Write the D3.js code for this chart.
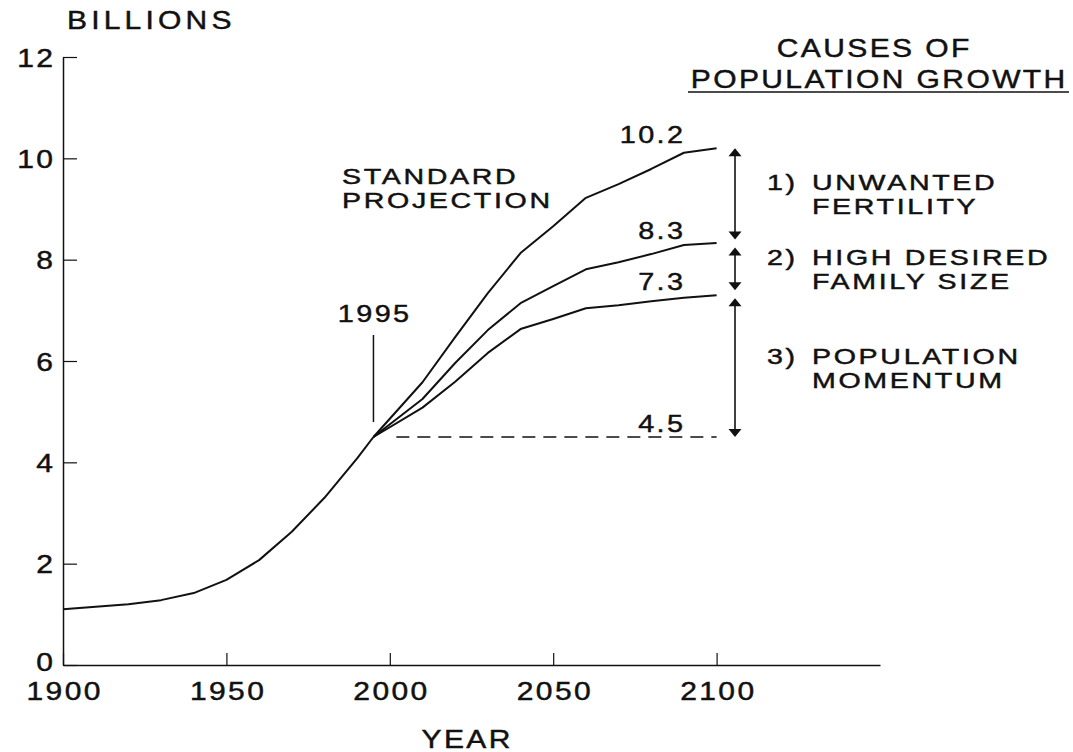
<!DOCTYPE html>
<html>
<head>
<meta charset="utf-8">
<script src="https://cdn.jsdelivr.net/npm/d3@7"></script>
<style>
  html, body { margin: 0; padding: 0; background: #fff; }
  svg { display: block; }
  text { font-family: "Liberation Sans", Arial, Helvetica, sans-serif; fill: #111; stroke: #111; stroke-width: 0.45px; }
</style>
</head>
<body>
<svg id="chart" width="1073" height="752"></svg>
<script>
// ---- data ----
const histYears = [1900, 1910, 1920, 1930, 1940, 1950, 1960, 1970, 1980, 1990, 1995];
const histPop   = [1.10, 1.15, 1.20, 1.28, 1.42, 1.68, 2.07, 2.63, 3.30, 4.08, 4.50];

const projYears   = [1995, 2010, 2020, 2030, 2040, 2050, 2060, 2070, 2080, 2090, 2100];
const standardPop = [4.50, 5.58, 6.47, 7.34, 8.13, 8.66, 9.22, 9.49, 9.79, 10.11, 10.20];
const wantedPop   = [4.50, 5.25, 5.96, 6.61, 7.14, 7.48, 7.81, 7.95, 8.11, 8.29, 8.33];
const replacePop  = [4.50, 5.08, 5.59, 6.16, 6.63, 6.83, 7.04, 7.10, 7.18, 7.25, 7.30];

const endLabels = ["10.2", "8.3", "7.3", "4.5"];
const endValues = [10.2, 8.3, 7.3, 4.5];
const momentumBase = 4.5;
const baseYear = 1995;
const endYear = 2100;

const xTicks = [1900, 1950, 2000, 2050, 2100];
const yTicks = [0, 2, 4, 6, 8, 10, 12];

const causeNums = ["1)", "2)", "3)"];
const causeLines = [["UNWANTED", "FERTILITY"], ["HIGH DESIRED", "FAMILY SIZE"], ["POPULATION", "MOMENTUM"]];

// ---- layout ----
const svg = d3.select("#chart");
const x = d3.scaleLinear().domain([1900, 2150]).range([63, 880]);
const y = d3.scaleLinear().domain([0, 12]).range([665, 57]);
const SX = 1.2, LS = 2;

function label(parent, tx, ty, str, anchor, size, ls, sx) {
  ls = ls === undefined ? LS : ls;
  sx = sx || SX;
  const shift = anchor === "end" ? ls * sx : (anchor === "middle" ? ls * sx / 2 : 0);
  return parent.append("text")
    .attr("transform", `translate(${tx + shift},${ty}) scale(${sx},1)`)
    .attr("text-anchor", anchor)
    .attr("font-size", size)
    .attr("letter-spacing", ls)
    .text(str);
}
// multi-line label: lines = [[dx, dy, str], ...] relative to first baseline
function block(parent, tx, ty, lines, anchor, size, sx) {
  sx = sx || SX;
  const shift = anchor === "middle" ? LS * sx / 2 : 0;
  const t = parent.append("text")
    .attr("transform", `translate(${tx + shift},${ty}) scale(${sx},1)`)
    .attr("text-anchor", anchor)
    .attr("font-size", size)
    .attr("letter-spacing", LS);
  lines.forEach(l => {
    t.append("tspan").attr("x", l[0] / sx).attr("y", l[1]).text(l[2]);
  });
  return t;
}

// axes
const yAxis = svg.append("g").attr("transform", `translate(${x(1900)},0)`)
  .call(d3.axisLeft(y).tickValues(yTicks).tickSize(-14).tickSizeOuter(0).tickPadding(10).tickFormat(d3.format("d")));
const xAxis = svg.append("g").attr("transform", `translate(0,${y(0)})`)
  .call(d3.axisBottom(x).tickValues(xTicks).tickSize(-12).tickSizeOuter(0).tickPadding(16).tickFormat(d3.format("d")));

[yAxis, xAxis].forEach(g => {
  g.select(".domain").attr("stroke", "#111").attr("stroke-width", 1.5);
  g.selectAll(".tick line").attr("stroke", "#111").attr("stroke-width", 1.2);
  g.attr("font-family", null).attr("font-size", null);
});
yAxis.selectAll(".tick text").each(function(d) {
  const t = d3.select(this);
  t.attr("x", null).attr("dy", null).attr("font-size", 25).attr("letter-spacing", LS)
   .attr("transform", `translate(${-10 + LS * SX},${d === 0 ? 5 : 9}) scale(${SX},1)`);
});
xAxis.selectAll(".tick text").each(function(d) {
  const t = d3.select(this);
  t.attr("y", null).attr("dy", null).attr("font-size", 25).attr("letter-spacing", LS)
   .attr("transform", `translate(${LS * SX / 2},${35}) scale(${SX},1)`);
});

// axis titles
label(svg, 67, 29, "BILLIONS", "start", 25, 3.5);
label(svg, 466, 748, "YEAR", "middle", 25);

// lines
const line = d3.line().x(d => x(d[0])).y(d => y(d[1]));
const lineStyle = p => p.attr("fill", "none").attr("stroke", "#111").attr("stroke-width", 2).attr("stroke-linejoin", "round");
svg.append("path").datum(d3.zip(histYears, histPop)).attr("d", line).call(lineStyle);
[standardPop, wantedPop, replacePop].forEach(s => {
  svg.append("path").datum(d3.zip(projYears, s)).attr("d", line).call(lineStyle);
});

// dashed momentum baseline
svg.append("line")
  .attr("x1", x(2002)).attr("x2", x(endYear))
  .attr("y1", y(momentumBase)).attr("y2", y(momentumBase))
  .attr("stroke", "#111").attr("stroke-width", 1.3).attr("stroke-dasharray", "13,8");

// 1995 marker
svg.append("line").attr("x1", x(baseYear)).attr("x2", x(baseYear))
  .attr("y1", y(momentumBase) - 102).attr("y2", y(momentumBase) - 15)
  .attr("stroke", "#111").attr("stroke-width", 1.5);
label(svg, x(baseYear), 322, "1995", "middle", 24);

// standard projection label
const FS2 = 21.5, SX2 = 1.33, GAP = 24;
block(svg, 342, 184, [[0, 0, "STANDARD"], [0, GAP, "PROJECTION"]], "start", FS2, SX2);

// end labels
endLabels.forEach((s, i) => {
  label(svg, 683, y(endValues[i]) - 5, s, "end", 24);
});

// arrows
const ax = 735;
const arrowPairs = [[endValues[0], endValues[1]], [endValues[1], endValues[2]], [endValues[2], momentumBase]];
arrowPairs.forEach((p, i) => {
  const top = y(p[0]) + (i === 0 ? 0 : 3);
  const bot = y(p[1]) - (i === 2 ? 0 : 5);
  const g = svg.append("g");
  g.append("line").attr("x1", ax).attr("x2", ax).attr("y1", top + 4).attr("y2", bot - 4)
    .attr("stroke", "#111").attr("stroke-width", 1.6);
  g.append("path").attr("d", `M${ax},${top} L${ax - 6.5},${top + 8} L${ax + 6.5},${top + 8} Z`).attr("fill", "#111");
  g.append("path").attr("d", `M${ax},${bot} L${ax - 6.5},${bot - 8} L${ax + 6.5},${bot - 8} Z`).attr("fill", "#111");
  const mid = (top + bot) / 2;
  const b1 = mid - GAP / 2 + 8;
  label(svg, 767, b1, causeNums[i], "start", FS2, LS, SX2);
  block(svg, 812, b1, [[0, 0, causeLines[i][0]], [0, GAP, causeLines[i][1]]], "start", FS2, SX2);
});

// causes header
block(svg, 876, 57, [[-3, 0, "CAUSES OF"], [2, 31, "POPULATION GROWTH"]], "middle", 25);
svg.append("line").attr("x1", 688).attr("x2", 1069).attr("y1", 92).attr("y2", 92)
  .attr("stroke", "#111").attr("stroke-width", 1.5);
</script>
</body>
</html>
